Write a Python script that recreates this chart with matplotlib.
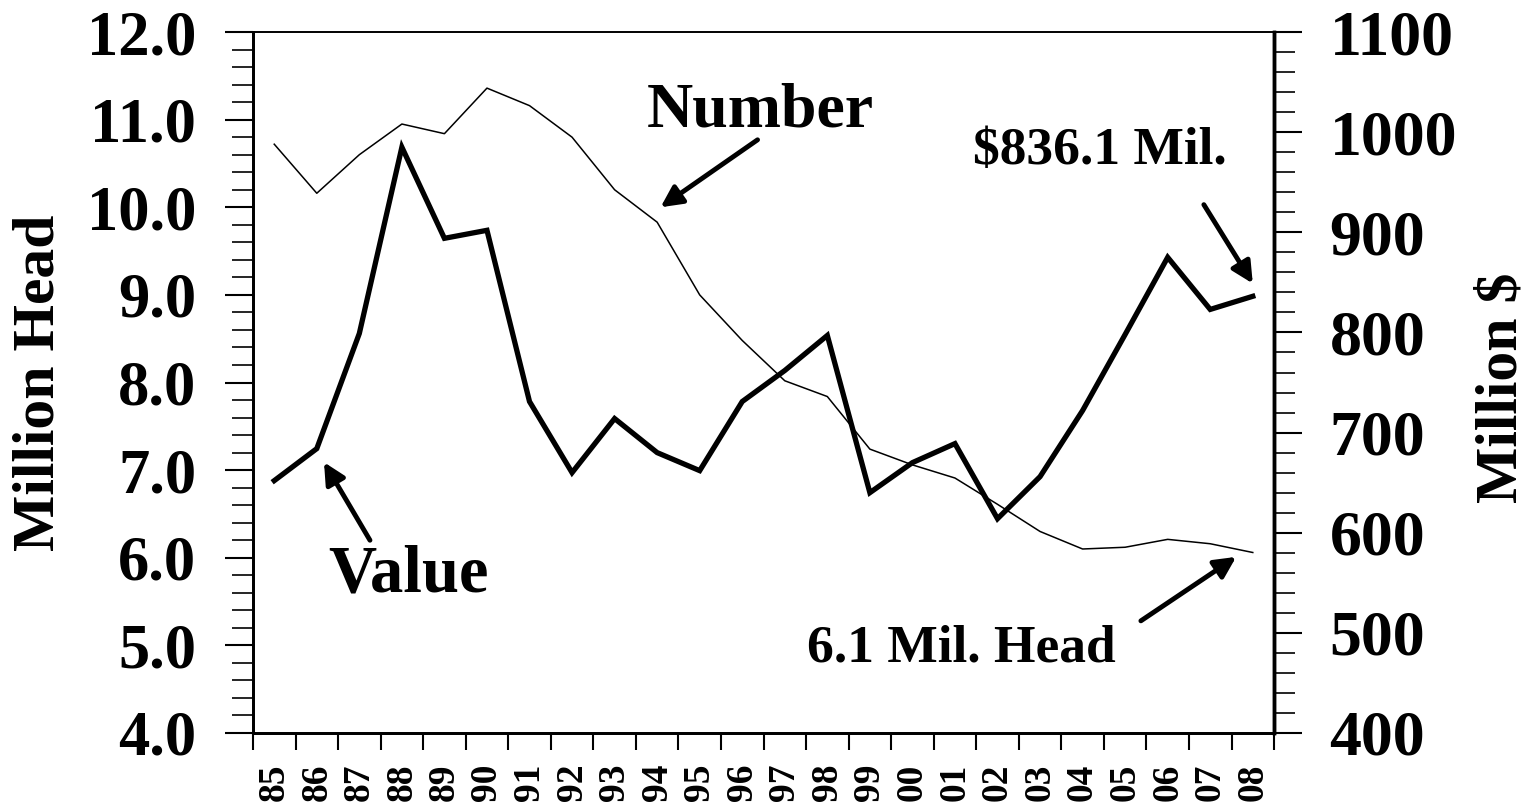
import matplotlib
matplotlib.use("Agg")
import matplotlib.pyplot as plt
from matplotlib.ticker import MultipleLocator, FixedLocator, NullFormatter

plt.rcParams['font.family'] = ['Liberation Serif', 'DejaVu Serif']
plt.rcParams['font.weight'] = 'bold'

# data
years = ['85', '86', '87', '88', '89', '90', '91', '92', '93', '94', '95', '96',
         '97', '98', '99', '00', '01', '02', '03', '04', '05', '06', '07', '08']
number_head = [10.72, 10.16, 10.60, 10.95, 10.84, 11.36, 11.16, 10.80, 10.20, 9.83,
               9.00, 8.48, 8.02, 7.84, 7.24, 7.06, 6.91, 6.61, 6.30, 6.10,
               6.12, 6.21, 6.16, 6.06]
value_mil = [652, 684, 799, 985, 894, 902, 731, 660, 714, 680, 662, 731,
             762, 797, 640, 670, 689, 614, 656, 722, 798, 875, 823, 836.1]

x = list(range(len(years)))

fig = plt.figure(figsize=(15.35, 8.07), dpi=100)
ax = fig.add_axes([0.1648, 0.0917, 0.6652, 0.8686])
ax2 = ax.twinx()

ax.plot(x, number_head, color='black', linewidth=1.1, zorder=3)
ax2.plot(x, value_mil, color='black', linewidth=3.8, solid_joinstyle='miter', zorder=3)

ax.set_xlim(-0.5, len(years) - 0.5)
ax.set_ylim(4.0, 12.0)
ax2.set_ylim(400, 1100)

# x ticks at category boundaries, labels at centres
ax.xaxis.set_major_locator(FixedLocator([i - 0.5 for i in range(len(years) + 1)]))
ax.xaxis.set_major_formatter(NullFormatter())
ax.xaxis.set_minor_locator(FixedLocator(x))
ax.set_xticklabels(years, minor=True, rotation=90, fontsize=27, fontweight='bold')
ax.tick_params(axis='x', which='major', direction='out', length=12, width=1.5)
ax.tick_params(axis='x', which='minor', length=0, pad=22)

ax.yaxis.set_major_locator(MultipleLocator(1.0))
ax.yaxis.set_minor_locator(MultipleLocator(0.2))
ax.set_yticklabels([f"{v:.1f}" for v in ax.get_yticks()], fontsize=45, fontweight='bold')
ax.tick_params(axis='y', which='major', direction='out', length=20, width=1.5, pad=21)
ax.tick_params(axis='y', which='minor', direction='out', length=15, width=1.2)

ax2.yaxis.set_major_locator(MultipleLocator(100))
ax2.yaxis.set_minor_locator(MultipleLocator(20))
ax2.set_yticks(ax2.get_yticks())
ax2.set_yticklabels([f"{int(v)}" for v in ax2.get_yticks()], fontsize=46, fontweight='bold')
ax2.set_ylim(400, 1100)
ax2.tick_params(axis='y', which='major', direction='out', length=20, width=1.5, pad=20)
ax2.tick_params(axis='y', which='minor', direction='out', length=15, width=1.2)

for a in (ax, ax2):
    a.spines['left'].set_linewidth(2)
    a.spines['bottom'].set_linewidth(2)
    a.spines['right'].set_linewidth(2.5)
    a.spines['top'].set_linewidth(1.2)

fig.text(0.026, 0.526, 'Million Head', rotation=90, ha='center', va='center',
         fontsize=43, fontweight='bold')
fig.text(0.979, 0.519, 'Million $', rotation=90, ha='center', va='center',
         fontsize=43, fontweight='bold')

arrow = dict(arrowstyle='-|>', color='black', lw=3.5, mutation_scale=32,
             shrinkA=0, shrinkB=0)

ax.text(11.43, 11.09, 'Number', ha='center', va='center', fontsize=46, fontweight='bold')
ax.annotate('', xy=(9.08, 10.0), xytext=(11.36, 10.77), arrowprops=arrow)

ax.text(3.15, 5.80, 'Value', ha='center', va='center', fontsize=48, fontweight='bold')
ax.annotate('', xy=(1.17, 7.09), xytext=(2.25, 6.20), arrowprops=arrow)

ax.text(19.41, 10.64, '$836.1 Mil.', ha='center', va='center', fontsize=38.5, fontweight='bold')
ax.annotate('', xy=(23.0, 9.13), xytext=(21.85, 10.03), arrowprops=arrow)

ax.text(16.14, 4.97, '6.1 Mil. Head', ha='center', va='center', fontsize=38.5, fontweight='bold')
ax.annotate('', xy=(22.61, 6.01), xytext=(20.37, 5.28), arrowprops=arrow)

fig.savefig('out.png', dpi=100)
